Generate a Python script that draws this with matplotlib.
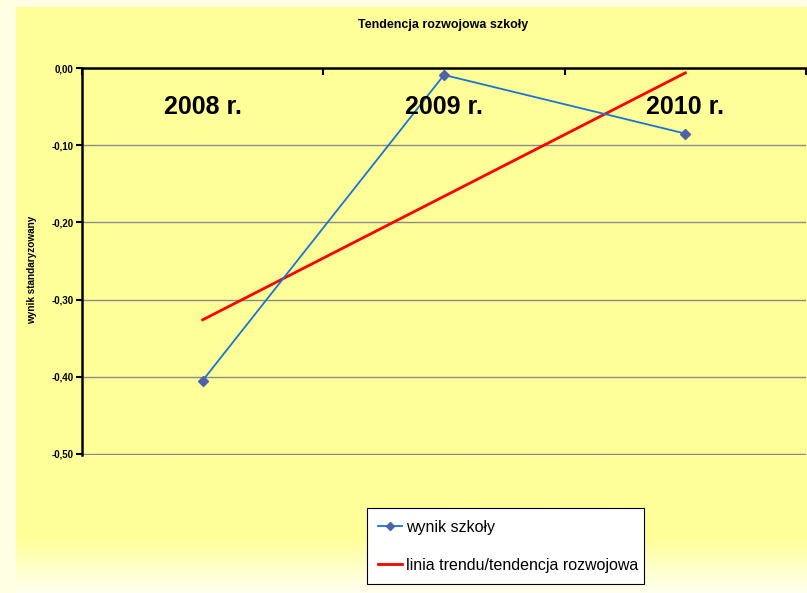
import numpy as np
import matplotlib
matplotlib.use('Agg')
from matplotlib import pyplot as plt
from matplotlib.ticker import FuncFormatter

plt.rcParams['font.family'] = ['Liberation Sans', 'DejaVu Sans']

# data
years = ['2008 r.', '2009 r.', '2010 r.']
wynik = [-0.405, -0.009, -0.085]
yticks = [0.0, -0.1, -0.2, -0.3, -0.4, -0.5]

W, H = 807, 593
fig = plt.figure(figsize=(W / 100, H / 100), dpi=100)
fig.patch.set_facecolor('#FFFFE3')

# chart area background with soft fade at the bottom
bg = fig.add_axes([0, 0, 1, 1], zorder=-5)
bg.set_xlim(0, 1); bg.set_ylim(0, 1); bg.axis('off')
n = 200
yel = np.array([255, 255, 153]) / 255
wht = np.array([255, 255, 238]) / 255
t = np.linspace(0, 1, n)  # top -> bottom
fade = np.clip((t * (H - 7) - (540 - 7)) / (H - 540), 0, 1)
grad = yel[None, :] * (1 - fade[:, None]) + wht[None, :] * fade[:, None]
bg.imshow(grad[:, None, :], aspect='auto', extent=[16 / W, 1, 0, 1 - 7 / H], interpolation='bilinear')

ax = fig.add_axes([82 / W, 1 - 455 / H, (806 - 82) / W, (455 - 68) / H])
ax.set_facecolor('none')

x = np.arange(len(years))
ax.plot(x, wynik, color='#1A74D2', lw=1.3, marker='D', ms=5,
        mfc='#4D62A8', mec='#4D62A8', label='wynik szkoły', zorder=3)
coef = np.polyfit(x, wynik, 1)
ax.plot(x, np.polyval(coef, x), color='#FF0000', lw=2,
        label='linia trendu/tendencja rozwojowa', zorder=2)

ax.set_xlim(-0.5, 2.5)
ax.set_ylim(-0.5015, 0)
ax.set_yticks(yticks)
ax.yaxis.set_major_formatter(FuncFormatter(lambda v, p: ('%.2f' % v).replace('.', ',')))
for lab in ax.get_yticklabels():
    lab.set_fontweight('bold')
ax.tick_params(axis='y', labelsize=7, length=4, width=1.5, direction='out', pad=2)
ax.yaxis.grid(True, color='#8A8A8A', lw=1)
ax.set_axisbelow(True)

ax.xaxis.tick_top()
ax.set_xticks([-0.5, 0.5, 1.5, 2.5])
ax.set_xticklabels([])
ax.tick_params(axis='x', direction='in', length=5, width=1.5, top=True, bottom=False)

for s in ['right', 'bottom']:
    ax.spines[s].set_visible(False)
ax.spines['left'].set_linewidth(1.8)
ax.spines['top'].set_linewidth(1.8)

for i, yr in enumerate(years):
    ax.text(i, -0.05, yr, ha='center', va='center', fontsize=18, fontweight='bold')

fig.text(443 / W, 1 - 25 / H, 'Tendencja rozwojowa szkoły', ha='center', va='center',
         fontsize=9, fontweight='bold')
fig.text(32 / W, 1 - 270 / H, 'wynik standaryzowany', ha='center', va='center',
         rotation=90, fontsize=7.2, fontweight='bold')

leg = fig.legend(loc='lower left', bbox_to_anchor=(367 / W, 1 - 584 / H, (644 - 367) / W, (584 - 511) / H),
                 mode='expand', fontsize=11.5, frameon=True, fancybox=False,
                 handlelength=1.5, labelspacing=1.45, borderpad=0.7, handletextpad=0.25,
                 borderaxespad=0, markerscale=0.8)
leg.get_frame().set_edgecolor('black')
leg.get_frame().set_linewidth(0.8)
leg.get_frame().set_facecolor('white')
leg.get_frame().set_alpha(1)

fig.savefig('out.png', dpi=100, facecolor=fig.get_facecolor())
